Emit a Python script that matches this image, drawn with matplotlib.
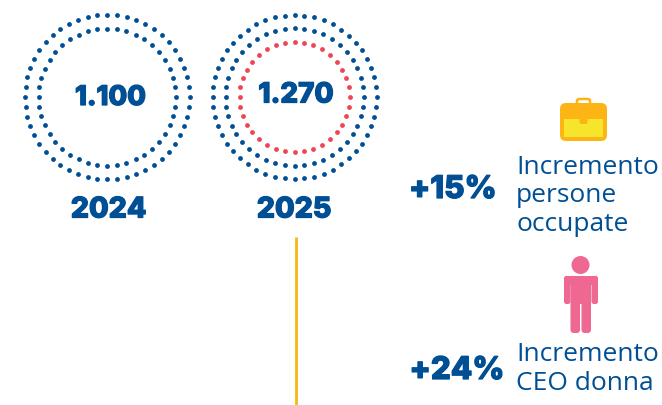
import numpy as np
import matplotlib
matplotlib.use('Agg')
import matplotlib.pyplot as plt
import matplotlib.patheffects as pe
from matplotlib.patches import FancyBboxPatch, Circle, Rectangle

years = ['2024', '2025']
totals = ['1.100', '1.270']
ring_dots_2024 = [52, 44]
ring_dots_2025 = [52, 44, 36]
pct_labels = ['+15%', '+24%']
pct_texts = ['Incremento\npersone\noccupate', 'Incremento\nCEO donna']

BLUE = '#004f95'
RED = '#ee4655'
AMBER = '#fdb515'
YELLOW = '#f6e52a'
PINK = '#ee6892'
LINE = '#f5b90f'
BOLD = 'Inter'
REG = 'Open Sans'

fig = plt.figure(figsize=(6.62, 4.06), dpi=100)
ax = fig.add_axes([0, 0, 1, 1])
ax.set_xlim(0, 662)
ax.set_ylim(406, 0)
ax.axis('off')

# bold text is thickened a bit, Inter is lighter than the original font
fat = [pe.withStroke(linewidth=0.9, foreground=BLUE)]


def ring(cx, cy, r, n, color):
    a = np.linspace(0, 2 * np.pi, n, endpoint=False)
    ax.scatter(cx + r * np.cos(a), cy + r * np.sin(a), s=12, color=color, linewidths=0)


def bold(x, y, s, size):
    ax.text(x, y, s, color=BLUE, fontsize=size, family=BOLD, weight='heavy',
            ha='center', va='center', path_effects=fat)


# left circle
ring(107.2, 98, 82.3, ring_dots_2024[0], BLUE)
ring(107.2, 98, 68.5, ring_dots_2024[1], BLUE)
# right circle
ring(294.5, 98, 82, ring_dots_2025[0], BLUE)
ring(294.5, 98, 69, ring_dots_2025[1], BLUE)
ring(294.5, 98, 55, ring_dots_2025[2], RED)

bold(110.5, 99, totals[0], 19.5)
bold(296, 96.5, totals[1], 20)
bold(108.5, 211, years[0], 20.5)
bold(294, 211, years[1], 20.5)

ax.plot([296, 296], [238, 406], color=LINE, lw=2, solid_capstyle='butt')

bold(453, 191, pct_labels[0], 22.5)
bold(457, 372, pct_labels[1], 22.5)

ax.text(516, 196, pct_texts[0], color=BLUE, fontsize=19, family=REG, ha='left', va='center', linespacing=1.16)
ax.text(516.5, 369, pct_texts[1], color=BLUE, fontsize=19, family=REG, ha='left', va='center', linespacing=1.16)

# briefcase icon
ax.add_patch(FancyBboxPatch((577, 100), 13, 8, boxstyle='round,pad=0,rounding_size=2', fc='white', ec=AMBER, lw=1.8))
ax.add_patch(FancyBboxPatch((560, 104), 47, 38, boxstyle='round,pad=0,rounding_size=6', fc=AMBER, ec='none'))
ax.add_patch(Rectangle((564, 120), 39, 18, fc=YELLOW, ec='none'))
ax.add_patch(FancyBboxPatch((579.5, 116), 8, 9, boxstyle='round,pad=0,rounding_size=2', fc=AMBER, ec='none'))

# person icon
ax.add_patch(Circle((580.5, 266), 9, fc=PINK, ec='none'))
ax.add_patch(FancyBboxPatch((564, 277), 34, 9, boxstyle='round,pad=0,rounding_size=3', fc=PINK, ec='none'))
ax.add_patch(FancyBboxPatch((564, 277), 6.5, 28, boxstyle='round,pad=0,rounding_size=2.5', fc=PINK, ec='none'))
ax.add_patch(FancyBboxPatch((591.5, 277), 6.5, 28, boxstyle='round,pad=0,rounding_size=2.5', fc=PINK, ec='none'))
ax.add_patch(FancyBboxPatch((570.5, 278), 9.5, 56, boxstyle='round,pad=0,rounding_size=3.5', fc=PINK, ec='none'))
ax.add_patch(FancyBboxPatch((581.5, 278), 9.5, 56, boxstyle='round,pad=0,rounding_size=3.5', fc=PINK, ec='none'))
ax.add_patch(Rectangle((570.5, 280), 20.5, 25, fc=PINK, ec='none'))

fig.savefig('out.png', dpi=100)
